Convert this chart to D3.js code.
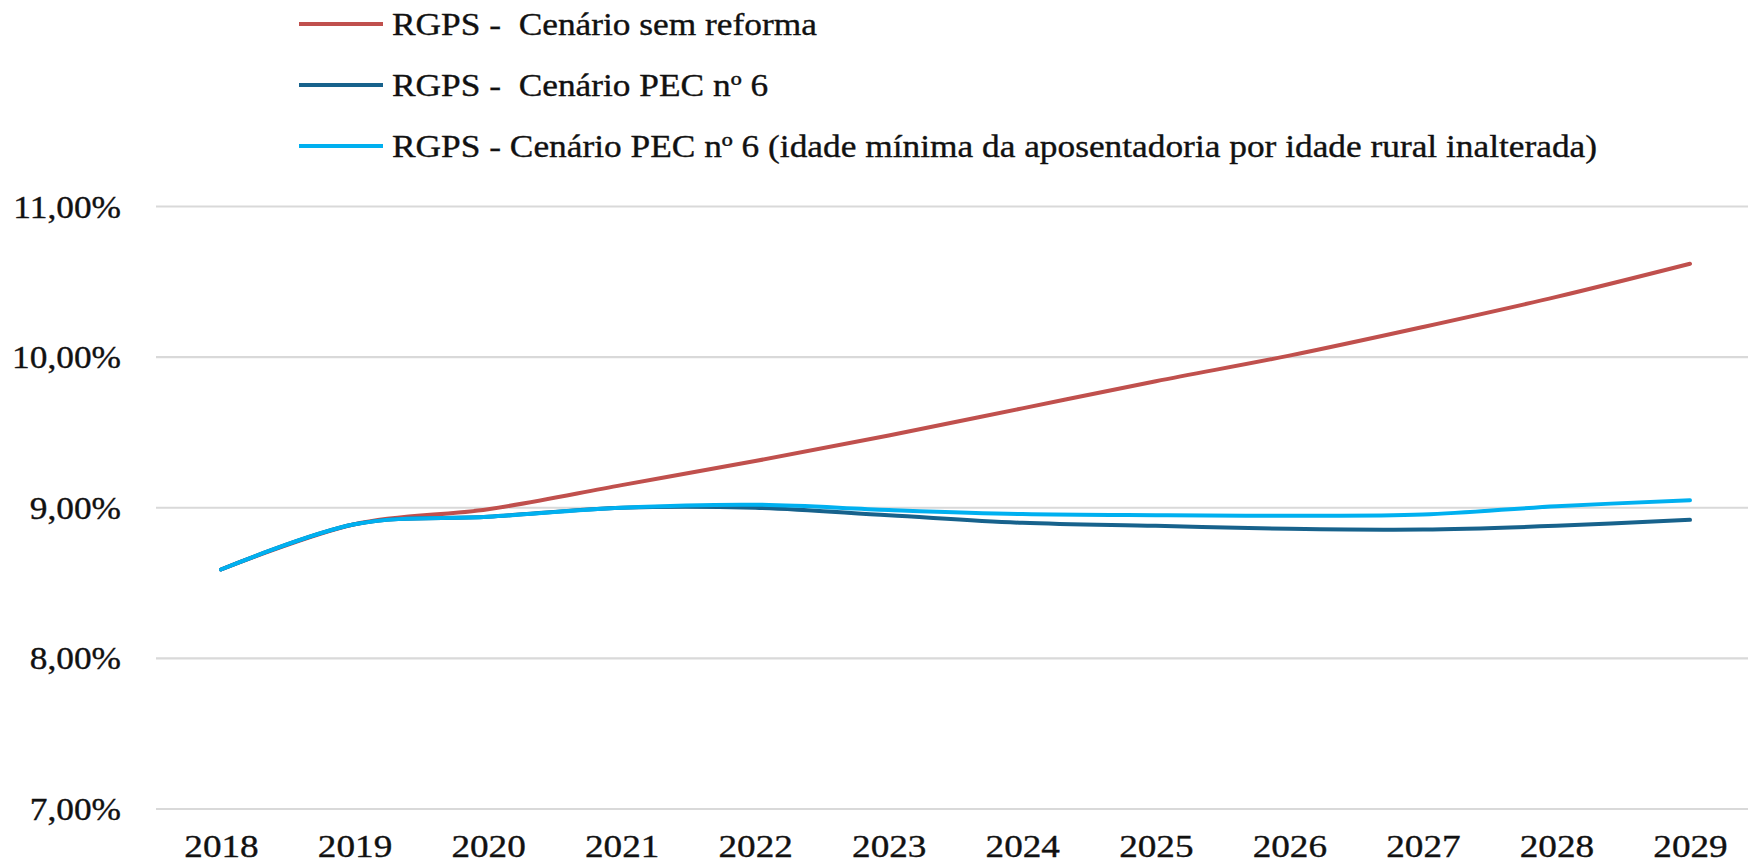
<!DOCTYPE html>
<html>
<head>
<meta charset="utf-8">
<script src="https://cdn.jsdelivr.net/npm/d3@7"></script>
<style>
  html, body { margin: 0; padding: 0; background: #fff; }
  svg { display: block; }
  text { font-family: "Liberation Serif", "DejaVu Serif", serif; fill: #111; }
</style>
</head>
<body>
<svg id="chart" width="1748" height="863"></svg>
<script>
const years = ["2018","2019","2020","2021","2022","2023","2024","2025","2026","2027","2028","2029"];
const semReforma = [8.59, 8.89, 8.99, 9.15, 9.31, 9.48, 9.66, 9.84, 10.01, 10.20, 10.40, 10.62];
const pec6 = [8.59, 8.89, 8.94, 9.00, 9.00, 8.95, 8.90, 8.88, 8.86, 8.855, 8.88, 8.92];
const pec6Rural = [8.59, 8.89, 8.94, 9.00, 9.02, 8.985, 8.958, 8.95, 8.947, 8.955, 9.01, 9.05];
const yTicks = [7, 8, 9, 10, 11];
const seriesNames = [
  "RGPS -  Cenário sem reforma",
  "RGPS -  Cenário PEC nº 6",
  "RGPS - Cenário PEC nº 6 (idade mínima da aposentadoria por idade rural inalterada)"
];
const seriesColors = ["#C0504D", "#17628C", "#00B0F0"];

const series = [
  { name: seriesNames[0], values: semReforma, color: seriesColors[0] },
  { name: seriesNames[1], values: pec6, color: seriesColors[1] },
  { name: seriesNames[2], values: pec6Rural, color: seriesColors[2] }
];

const svg = d3.select("#chart");

const x = d3.scalePoint().domain(years).range([221, 1690]);
const y = d3.scaleLinear().domain([7, 11]).range([809, 206.5]);

const fmt = v => v.toFixed(2).replace(".", ",") + "%";

// gridlines
svg.append("g").selectAll("line").data(yTicks).join("line")
  .attr("x1", 156).attr("x2", 1748)
  .attr("y1", d => y(d)).attr("y2", d => y(d))
  .attr("stroke", "#D9D9D9").attr("stroke-width", 2.2);

function styleText(sel, sx) {
  sel.attr("font-size", 31)
    .attr("font-family", '"Liberation Serif", serif')
    .attr("fill", "#111")
    .attr("stroke", "#111").attr("stroke-width", 0.35)
    .attr("transform", `scale(${sx},1)`);
}

// y labels
const yAxis = d3.axisLeft(y).tickValues(yTicks).tickFormat(fmt).tickSize(0).tickPadding(0);
const gy = svg.append("g").attr("transform", "translate(121,0)").call(yAxis);
gy.select(".domain").remove();
gy.selectAll("text").attr("x", 0).attr("dy", "0.34em").call(styleText, 1.14);

// x labels
const xAxis = d3.axisBottom(x).tickSize(0).tickPadding(0);
const gx = svg.append("g").attr("transform", "translate(0,835)").call(xAxis);
gx.select(".domain").remove();
gx.selectAll("text").attr("y", 0).attr("dy", "0.71em").call(styleText, 1.2);

// lines
const line = d3.line()
  .x((d, i) => x(years[i]))
  .y(d => y(d))
  .curve(d3.curveCardinal.tension(0));

svg.append("g").selectAll("path").data(series).join("path")
  .attr("d", d => line(d.values))
  .attr("fill", "none")
  .attr("stroke", d => d.color)
  .attr("stroke-width", 4)
  .attr("stroke-linecap", "round")
  .attr("stroke-linejoin", "round");

// legend
const legendY = d3.scalePoint().domain(seriesNames).range([24, 146]);
const lg = svg.append("g").selectAll("g").data(series).join("g")
  .attr("transform", d => `translate(299,${legendY(d.name)})`);
lg.append("line").attr("x1", 0).attr("x2", 84).attr("y1", 0).attr("y2", 0)
  .attr("stroke", d => d.color).attr("stroke-width", 4);
lg.append("g").attr("transform", "translate(93,0)")
  .append("text").attr("dy", "0.34em")
  .attr("xml:space", "preserve")
  .style("white-space", "pre")
  .text(d => d.name)
  .call(styleText, 1.14);
</script>
</body>
</html>
